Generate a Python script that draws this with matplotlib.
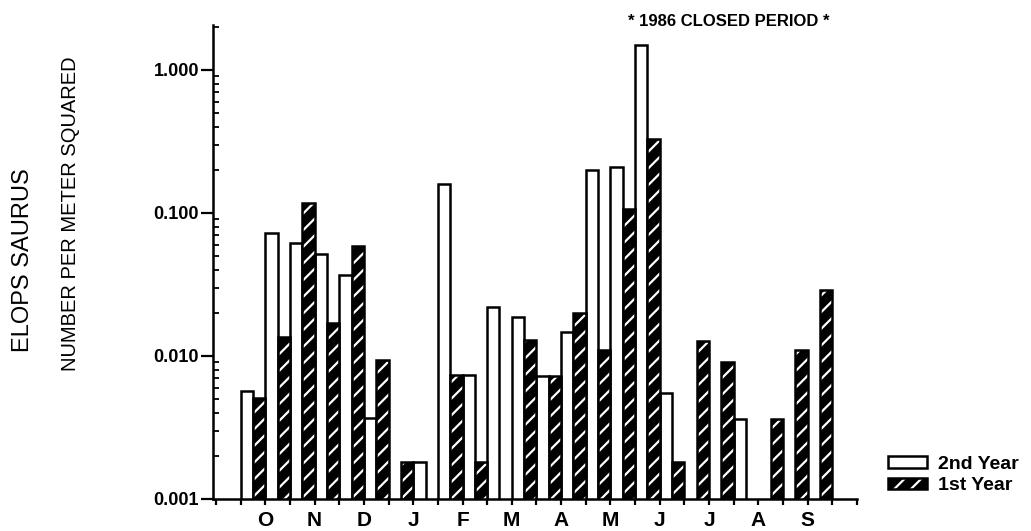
import numpy as np
import matplotlib
matplotlib.use('Agg')
import matplotlib.pyplot as plt
from matplotlib.ticker import LogLocator, NullFormatter
from matplotlib.legend_handler import HandlerTuple

plt.rcParams['font.family'] = ['Liberation Sans', 'DejaVu Sans']
plt.rcParams['hatch.linewidth'] = 1.6

# Data: half-month sampling periods, October through September
months = ['O', 'N', 'D', 'J', 'F', 'M', 'A', 'M', 'J', 'J', 'A', 'S']
nan = np.nan
second_year = [0.0057, 0.072, 0.062, 0.052, 0.037, 0.0037, nan, 0.0018,
               0.16, 0.0074, 0.022, 0.0186, 0.0072, 0.0146, 0.20, 0.21,
               1.5, 0.0055, nan, nan, 0.0036, nan, nan, nan]
first_year = [0.0051, 0.0136, 0.117, 0.017, 0.059, 0.0093, 0.0018, nan,
              0.0074, 0.0018, nan, 0.013, 0.0072, 0.020, 0.011, 0.106,
              0.33, 0.0018, 0.0128, 0.009, nan, 0.0036, 0.011, 0.029]
y_ticks = [0.001, 0.01, 0.1, 1.0]
legend_labels = ['2nd Year', '1st Year']
note = '* 1986 CLOSED PERIOD *'

base = 0.001
fig = plt.figure(figsize=(10.31, 5.31), dpi=100)
ax = fig.add_axes([0.2066, 0.0603, 0.6246, 0.8927])
ax.set_yscale('log')

periods = np.arange(len(second_year))
y2 = np.array(second_year)
y1 = np.array(first_year)
m2 = ~np.isnan(y2)
m1 = ~np.isnan(y1)

b2 = ax.bar(periods[m2], y2[m2] - base, bottom=base, width=0.5, align='edge',
            facecolor='white', edgecolor='black', linewidth=1.8, zorder=3)
b1 = ax.bar(periods[m1] + 0.5, y1[m1] - base, bottom=base, width=0.5, align='edge',
            facecolor='black', edgecolor='white', hatch='//', linewidth=0, zorder=3)
b1o = ax.bar(periods[m1] + 0.5, y1[m1] - base, bottom=base, width=0.5, align='edge',
             fill=False, edgecolor='black', linewidth=1.8, zorder=4)

# x ticks: every half month, month letter at mid-month
tick_pos = np.arange(-1, 26)
tick_labels = [''] * len(tick_pos)
for i, m in enumerate(months):
    tick_labels[2 * i + 2] = m
ax.set_xticks(tick_pos, tick_labels)
ax.set_xlim(-1.12, 25.0)

ax.set_ylim(0.001, 2.06)
ax.set_yticks(y_ticks, ['%.3f' % v for v in y_ticks])
ax.yaxis.set_minor_locator(LogLocator(base=10, subs=range(2, 10)))
ax.yaxis.set_minor_formatter(NullFormatter())

ax.tick_params(axis='y', which='major', direction='out', length=9, width=1.6,
               pad=1, labelsize=13)
ax.tick_params(axis='y', which='minor', direction='in', length=4, width=1.3)
ax.tick_params(axis='x', which='major', direction='out', length=4.5, width=1.6,
               pad=4, labelsize=15)
for t in ax.get_xticklabels() + ax.get_yticklabels():
    t.set_fontweight('bold')

for s in ['top', 'right']:
    ax.spines[s].set_visible(False)
for s in ['left', 'bottom']:
    ax.spines[s].set_linewidth(1.8)

fig.text(729 / 1031, 1 - 22 / 531, note, ha='center', va='center',
         fontsize=12, fontweight='bold')
fig.text(23 / 1031, 1 - 260 / 531, 'ELOPS SAURUS', rotation=90,
         ha='center', va='center', fontsize=17)
fig.text(71 / 1031, 1 - 214 / 531, 'NUMBER PER METER SQUARED', rotation=90,
         ha='center', va='center', fontsize=14.5)

ax.legend([b2, (b1, b1o)], legend_labels,
          handler_map={tuple: HandlerTuple(ndivide=1)},
          loc='center left', bbox_to_anchor=(888 / 1031, 1 - 475 / 531),
          bbox_transform=fig.transFigure, frameon=False,
          prop={'weight': 'bold', 'size': 14},
          handlelength=2.0, handleheight=0.55, handletextpad=0.55,
          labelspacing=0.25, borderpad=0, borderaxespad=0)

fig.savefig('out.png', dpi=100)
